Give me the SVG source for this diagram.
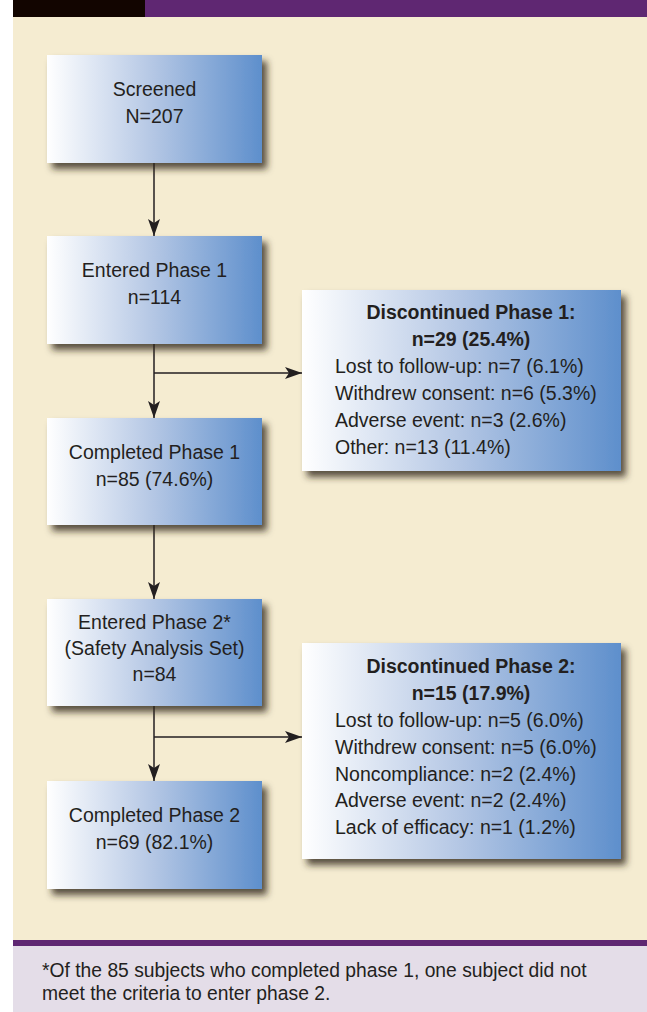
<svg xmlns="http://www.w3.org/2000/svg" width="647" height="1012" viewBox="0 0 647 1012">
<style>
.t{font-family:"Liberation Sans",Arial,sans-serif;font-size:19.5px;fill:#231F20}
.c{text-anchor:middle}
.b{font-weight:bold}
.f{font-family:"Liberation Sans",Arial,sans-serif;font-size:19.3px;fill:#231F20}
.box{fill:url(#g);filter:url(#sh)}
.ln{stroke:#231F20;stroke-width:1.5;fill:none}
</style>
<defs>
<linearGradient id="g" x1="0" y1="0" x2="1" y2="0">
<stop offset="0" stop-color="#FFFFFF"/>
<stop offset="0.5" stop-color="#B3C6E4"/>
<stop offset="1" stop-color="#5E8FCC"/>
</linearGradient>
<filter id="sh" x="-10%" y="-10%" width="130%" height="130%">
<feDropShadow dx="5" dy="6" stdDeviation="3.5" flood-color="#2E2818" flood-opacity="0.8"/>
</filter>
<marker id="ah" markerUnits="userSpaceOnUse" markerWidth="18" markerHeight="12" refX="17" refY="6" orient="auto">
<path d="M0,0 L17,6 L0,12 L4,6 z" fill="#231F20"/>
</marker>
</defs>
<rect x="0" y="0" width="647" height="1012" fill="#FFFFFF"/>
<rect x="13" y="0" width="634" height="17" fill="#5F2772"/>
<rect x="13" y="0" width="132" height="17" fill="#120500"/>
<rect x="13" y="17" width="634" height="923" fill="#F5ECD1"/>
<rect x="13" y="940" width="634" height="6" fill="#5F2772"/>
<rect x="13" y="946" width="634" height="66" fill="#E4DDE8"/>

<g id="connectors">
<path class="ln" d="M154,163 V236" marker-end="url(#ah)"/>
<path class="ln" d="M154,344 V418" marker-end="url(#ah)"/>
<path class="ln" d="M154,373 H302" marker-end="url(#ah)"/>
<path class="ln" d="M154,525 V599" marker-end="url(#ah)"/>
<path class="ln" d="M154,706 V781" marker-end="url(#ah)"/>
<path class="ln" d="M154,737 H302" marker-end="url(#ah)"/>
</g>

<g id="screened">
<rect class="box" x="47" y="55" width="215" height="108"/>
<text class="t c" x="154.5" y="96">Screened</text>
<text class="t c" x="154.5" y="123">N=207</text>
</g>
<g id="entered1">
<rect class="box" x="47" y="236" width="215" height="108"/>
<text class="t c" x="154.5" y="277">Entered Phase 1</text>
<text class="t c" x="154.5" y="304">n=114</text>
</g>
<g id="completed1">
<rect class="box" x="47" y="418" width="215" height="107"/>
<text class="t c" x="154.5" y="459">Completed Phase 1</text>
<text class="t c" x="154.5" y="486">n=85 (74.6%)</text>
</g>
<g id="entered2">
<rect class="box" x="47" y="599" width="215" height="107"/>
<text class="t c" x="154.5" y="629">Entered Phase 2*</text>
<text class="t c" x="154.5" y="655">(Safety Analysis Set)</text>
<text class="t c" x="154.5" y="681">n=84</text>
</g>
<g id="completed2">
<rect class="box" x="47" y="781" width="215" height="108"/>
<text class="t c" x="154.5" y="822">Completed Phase 2</text>
<text class="t c" x="154.5" y="849">n=69 (82.1%)</text>
</g>
<g id="disc1">
<rect class="box" x="302" y="290" width="319" height="181"/>
<text class="t c b" x="471" y="319">Discontinued Phase 1:</text>
<text class="t c b" x="471" y="346">n=29 (25.4%)</text>
<text class="t" x="335" y="373">Lost to follow-up: n=7 (6.1%)</text>
<text class="t" x="335" y="400">Withdrew consent: n=6 (5.3%)</text>
<text class="t" x="335" y="427">Adverse event: n=3 (2.6%)</text>
<text class="t" x="335" y="454">Other: n=13 (11.4%)</text>
</g>
<g id="disc2">
<rect class="box" x="302" y="643" width="319" height="216"/>
<text class="t c b" x="471" y="673">Discontinued Phase 2:</text>
<text class="t c b" x="471" y="700">n=15 (17.9%)</text>
<text class="t" x="335" y="727">Lost to follow-up: n=5 (6.0%)</text>
<text class="t" x="335" y="754">Withdrew consent: n=5 (6.0%)</text>
<text class="t" x="335" y="781">Noncompliance: n=2 (2.4%)</text>
<text class="t" x="335" y="807">Adverse event: n=2 (2.4%)</text>
<text class="t" x="335" y="834">Lack of efficacy: n=1 (1.2%)</text>
</g>
<g id="footnote">
<text class="f" x="42" y="977">*Of the 85 subjects who completed phase 1, one subject did not</text>
<text class="f" x="42" y="1000">meet the criteria to enter phase 2.</text>
</g>
</svg>
